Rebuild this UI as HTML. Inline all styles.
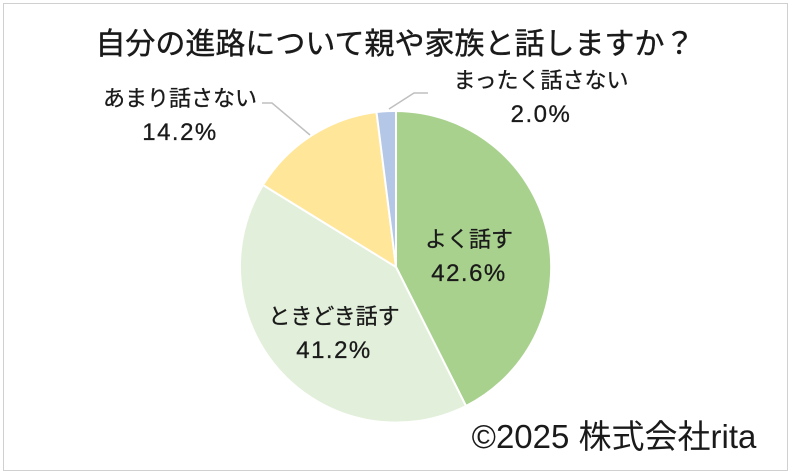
<!DOCTYPE html>
<html><head><meta charset="utf-8"><style>
html,body{margin:0;padding:0;background:#fff;}
body{width:800px;height:475px;position:relative;overflow:hidden;font-family:"Liberation Sans","Noto Sans CJK JP",sans-serif;}
.frame{position:absolute;left:3px;top:3px;width:783px;height:466px;border:1px solid #d0d0d0;}
</style></head><body>
<div class="frame"></div>
<svg width="800" height="475" style="position:absolute;left:0;top:0" font-family="Liberation Sans, Noto Sans CJK JP, sans-serif" fill="#1a1a1a">
<text x="395" y="54" font-size="30" text-anchor="middle" stroke="#1a1a1a" stroke-width="0.4">自分の進路について親や家族と話しますか？</text>
<g stroke="#fff" stroke-width="2">
<path d="M396,267 L396,111 A156,156 0 0 1 466,406 Z" fill="#a9d18e"/>
<path d="M396,267 L466,406 A156,156 0 0 1 263,185 Z" fill="#e2efda"/>
<path d="M396,267 L263,185 A156,156 0 0 1 376.5,112 Z" fill="#ffe699"/>
<path d="M396,267 L376.5,112 A156,156 0 0 1 396,111 Z" fill="#b4c7e7"/>
</g>
<g stroke="#bfbfbf" stroke-width="1.5" fill="none">
<polyline points="389,109 414,93 428,93"/>
<polyline points="262,103 272,103 310,135"/>
</g>
<g font-size="22" text-anchor="middle" stroke="#1a1a1a" stroke-width="0.3">
<text x="541" y="88">まったく話さない</text>
<text x="180" y="106">あまり話さない</text>
<text x="469" y="247">よく話す</text>
<text x="334" y="324">ときどき話す</text>
</g>
<g font-size="24" text-anchor="middle" stroke="#1a1a1a" stroke-width="0.3" letter-spacing="1.5">
<text x="541" y="122">2.0%</text>
<text x="180" y="140">14.2%</text>
<text x="469" y="281">42.6%</text>
<text x="334" y="358">41.2%</text>
</g>
<text x="614" y="448" font-size="33" text-anchor="middle">©2025 株式会社rita</text>
</svg>
</body></html>
